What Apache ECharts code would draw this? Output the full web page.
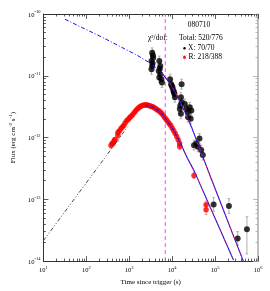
<!DOCTYPE html>
<html><head><meta charset="utf-8">
<script src="https://cdn.jsdelivr.net/npm/echarts@6/dist/echarts.min.js"></script>
<style>html,body{margin:0;padding:0;background:#fff}#c{width:270px;height:291px}</style>
</head><body><div id="c"></div>
<script>
// ---- axis ticks ----
const xTickValues = [1e1, 1e2, 1e3, 1e4, 1e5, 1e6];
const yTickValues = [1e-14, 1e-13, 1e-12, 1e-11, 1e-10];
const xMinorTicks = [];
for (let d = 1; d <= 5; d++) for (let k = 2; k <= 9; k++) xMinorTicks.push(k * Math.pow(10, d));
const yMinorTicks = [];
for (let d = -14; d <= -11; d++) for (let k = 2; k <= 9; k++) yMinorTicks.push(k * Math.pow(10, d));

// ---- X-ray data (black) ----
const xrtTime = [3420,3610,3300,3420,3300,3500,3550,
  5020,5300,4860,5300,5020,5590,5790,5150,
  8950,9440,10200,10700,11300,11600,16600,9800,11000,
  16000,16600,15100,16000,19700,21500,23500,25600,28000,23500,27000,15500,
  32300,36500,39800,43300,47400,51800,
  92500,210000,336000,552000];
const xrtFlux = [2.35e-11,1.95e-11,1.73e-11,1.44e-11,1.27e-11,1.60e-11,2.15e-11,
  1.73e-11,1.44e-11,1.19e-11,1.06e-11,9.36e-12,8.8e-12,7.78e-12,1.30e-11,
  8.8e-12,7.31e-12,6.47e-12,5.71e-12,5.06e-12,4.48e-12,7.31e-12,6.9e-12,5.4e-12,
  4.48e-12,3.73e-12,2.91e-12,2.42e-12,3.5e-12,2.91e-12,2.58e-12,3.1e-12,2.74e-12,2.14e-12,2.01e-12,3.3e-12,
  7.53e-13,8.02e-13,7.1e-13,9.64e-13,6.27e-13,5.21e-13,
  8.26e-14,7.78e-14,2.33e-14,3.29e-14];
const xrtErrLoDex = [0.08,0.08,0.08,0.08,0.08,0.08,0.08,
  0.08,0.08,0.08,0.08,0.08,0.08,0.08,0.08,
  0.08,0.08,0.08,0.08,0.08,0.08,0.08,0.08,0.08,
  0.08,0.08,0.08,0.08,0.08,0.08,0.08,0.08,0.08,0.08,0.08,0.08,
  0.08,0.08,0.08,0.08,0.08,0.08,
  0.11,0.12,0.11,0.40];
const xrtErrHiDex = [0.08,0.08,0.08,0.08,0.08,0.08,0.08,
  0.08,0.08,0.08,0.08,0.08,0.08,0.08,0.08,
  0.08,0.08,0.08,0.08,0.08,0.08,0.08,0.08,0.08,
  0.08,0.08,0.08,0.08,0.08,0.08,0.08,0.08,0.08,0.08,0.08,0.08,
  0.08,0.08,0.08,0.08,0.08,0.08,
  0.11,0.12,0.11,0.20];

// ---- optical R data (red) ----
const optTime = [376,400,418,440,464,543,543,590,637,690,745,800,873,950,1021,1100,1196,1300,1400,1520,1640,1780,1920,2080,2249,2430,2632,2850,3083,3330,3608,3900,4226,4570,4945,5350,5794,6260,6776,7330,7943,8590,9290,10050,10890,11780,12740,13800,14920,15000,32300,61700,61700];
const optFlux = [7.45e-13,8.0e-13,8.02e-13,8.8e-13,9.29e-13,1.08e-12,1.20e-12,1.28e-12,1.39e-12,1.48e-12,1.56e-12,1.72e-12,1.87e-12,1.98e-12,2.09e-12,2.22e-12,2.33e-12,2.52e-12,2.70e-12,2.86e-12,3.02e-12,3.14e-12,3.25e-12,3.33e-12,3.37e-12,3.38e-12,3.37e-12,3.30e-12,3.25e-12,3.19e-12,3.13e-12,3.02e-12,2.91e-12,2.80e-12,2.70e-12,2.56e-12,2.42e-12,2.25e-12,2.09e-12,1.94e-12,1.80e-12,1.67e-12,1.56e-12,1.42e-12,1.29e-12,1.16e-12,1.04e-12,9.2e-13,8.02e-13,7.18e-13,2.44e-13,8.17e-14,6.79e-14];
const optErrDex = [0.04,0.03,0.03,0.03,0.03,0.09,0.03,0.03,0.03,0.03,0.03,0.03,0.03,0.03,0.03,0.03,0.03,0.03,0.03,0.03,0.03,0.03,0.03,0.03,0.03,0.03,0.03,0.03,0.03,0.03,0.03,0.03,0.03,0.03,0.03,0.03,0.03,0.03,0.03,0.03,0.03,0.03,0.03,0.03,0.03,0.03,0.03,0.03,0.04,0.05,0.05,0.06,0.08];

// ---- model curves ----
const xrtModelEarlyTime = [31.8, 247, 1556, 3420, 5794];
const xrtModelEarlyFlux = [8.22e-11, 4.13e-11, 2.13e-11, 1.53e-11, 1.10e-11];
const xrtModelLateTime = [5794, 8810, 12740, 18400, 28000, 47400, 80200, 455000];
const xrtModelLateFlux = [1.10e-11, 7.59e-12, 4.88e-12, 2.91e-12, 1.50e-12, 5.75e-13, 2.21e-13, 1.0e-14];
const optRiseTime = [10, 543, 918];
const optRiseFlux = [2.14e-14, 9.06e-13, 1.50e-12];
const optDecayTime = [2024, 3083, 4226, 5794, 7943, 10890, 14920, 22700, 32800, 268500];
const optDecayFlux = [3.31e-12, 3.25e-12, 2.91e-12, 2.42e-12, 1.80e-12, 1.29e-12, 8.63e-13, 4.61e-13, 2.86e-13, 1.04e-14];
const breakTime = 6900;
const fluxRange = [1e-14, 1e-10];

const zip = (a, b) => a.map((v, i) => [v, b[i]]);
const FONT = 'Liberation Serif';

const errRender = (color) => function (params, api) {
  const x = api.value(0);
  const p1 = api.coord([x, api.value(2)]);
  const p2 = api.coord([x, api.value(3)]);
  const c = 1.3;
  const st = { stroke: color, lineWidth: 0.8 };
  return { type: 'group', children: [
    { type: 'line', shape: { x1: p1[0], y1: p1[1], x2: p2[0], y2: p2[1] }, style: st },
    { type: 'line', shape: { x1: p1[0]-c, y1: p1[1], x2: p1[0]+c, y2: p1[1] }, style: st },
    { type: 'line', shape: { x1: p2[0]-c, y1: p2[1], x2: p2[0]+c, y2: p2[1] }, style: st }
  ]};
};

const xrtErrData = xrtTime.map((t, i) => [t, xrtFlux[i], xrtFlux[i] / Math.pow(10, xrtErrLoDex[i]), xrtFlux[i] * Math.pow(10, xrtErrHiDex[i])]);
const optErrData = optTime.map((t, i) => [t, optFlux[i], optFlux[i] / Math.pow(10, optErrDex[i]), optFlux[i] * Math.pow(10, optErrDex[i])]);

const labRich = {
  b: { fontSize: 6.5, fontFamily: FONT, color: '#000', lineHeight: 9, verticalAlign: 'bottom' },
  s: { fontSize: 4.5, fontFamily: FONT, color: '#000', lineHeight: 5, verticalAlign: 'top' }
};
const powFmt = v => '{b|10}{s|' + Math.round(Math.log10(v)) + '}';

function xAx(pos, major, show) {
  return {
    type: 'log', logBase: 10, min: 10, max: 1e6, position: pos,
    axisLine: { show: show, onZero: false, lineStyle: { color: '#333', width: 1 } },
    axisTick: { show: true, inside: true, length: major ? 5 : 2.5, customValues: major ? xTickValues : xMinorTicks, lineStyle: { color: '#333', width: 0.8 } },
    axisLabel: (pos === 'bottom' && major) ? { show: true, customValues: xTickValues, formatter: powFmt, rich: labRich, margin: 4 } : { show: false },
    splitLine: { show: false },
    name: (pos === 'bottom' && major) ? 'Time since trigger (s)' : '',
    nameLocation: 'middle', nameGap: 12,
    nameTextStyle: { fontFamily: FONT, fontSize: 7, color: '#000' }
  };
}
function yAx(pos, major, show) {
  const col = pos === 'right' ? '#aaa' : '#333';
  return {
    type: 'log', logBase: 10, min: 1e-14, max: 1e-10, position: pos,
    axisLine: { show: show, onZero: false, lineStyle: { color: col, width: pos === 'right' ? 1.5 : 1 } },
    axisTick: { show: true, inside: true, length: major ? 5 : 2.5, customValues: major ? yTickValues : yMinorTicks, lineStyle: { color: col, width: 0.8 } },
    axisLabel: (pos === 'left' && major) ? { show: true, customValues: yTickValues, formatter: powFmt, rich: labRich, margin: 3 } : { show: false },
    splitLine: { show: false },
    name: (pos === 'left' && major) ? '{n|Flux (erg cm}{s|-2}{n| s}{s|-1}{n|)}' : '',
    nameLocation: 'middle', nameGap: 20, nameRotate: 90,
    nameTextStyle: { fontFamily: FONT, fontSize: 7, color: '#000', rich: {
      n: { fontFamily: FONT, fontSize: 7, color: '#000', lineHeight: 9, verticalAlign: 'bottom' },
      s: { fontFamily: FONT, fontSize: 5, color: '#000', lineHeight: 5, verticalAlign: 'top' } } }
  };
}

const chart = echarts.init(document.getElementById('c'), null, { renderer: 'canvas' });
chart.setOption({
  animation: false,
  backgroundColor: '#fff',
  grid: { left: 39, top: 14, right: 12, bottom: 27, containLabel: false },
  xAxis: [xAx('bottom', true, true), xAx('bottom', false, false), xAx('top', true, true), xAx('top', false, false)],
  yAxis: [yAx('left', true, true), yAx('left', false, false), yAx('right', true, true), yAx('right', false, false)],
  series: [
    { type: 'line', name: 'break', data: [[breakTime, fluxRange[0]], [breakTime, fluxRange[1]]], symbol: 'none', z: 1,
      itemStyle: { color: '#ff40ff' }, lineStyle: { color: '#ff40ff', width: 1, type: [4, 3] } },
    { type: 'custom', name: 'optErr', renderItem: errRender('#ff7070'), data: optErrData, z: 2, clip: true },
    { type: 'scatter', name: 'R', data: zip(optTime, optFlux), symbol: 'circle', symbolSize: 5.5, itemStyle: { color: '#ff0000' }, z: 3 },
    { type: 'custom', name: 'xrtErr', renderItem: errRender('#9a9a9a'), data: xrtErrData, z: 2, clip: true },
    { type: 'scatter', name: 'X', data: zip(xrtTime, xrtFlux), symbol: 'circle', symbolSize: 6, itemStyle: { color: '#000' }, z: 3 },
    { type: 'line', data: zip(xrtModelEarlyTime, xrtModelEarlyFlux), symbol: 'none', z: 5,
      lineStyle: { color: '#1010ff', width: 1, type: [4, 2, 1, 2] } },
    { type: 'line', data: zip(xrtModelLateTime, xrtModelLateFlux), symbol: 'none', z: 5, lineStyle: { color: '#1010ff', width: 1.1 } },
    { type: 'line', data: zip(xrtModelLateTime, xrtModelLateFlux), symbol: 'none', z: 6, lineStyle: { color: '#ff2020', width: 0.8, type: [3, 3] } },
    { type: 'line', data: zip(optRiseTime, optRiseFlux), symbol: 'none', z: 5, lineStyle: { color: '#333', width: 0.9, type: [4, 2, 1, 2, 1, 2] } },
    { type: 'line', data: zip(optDecayTime, optDecayFlux), symbol: 'none', z: 5, lineStyle: { color: '#1010ff', width: 1.1 } },
    { type: 'line', data: zip(optDecayTime, optDecayFlux), symbol: 'none', z: 6, lineStyle: { color: '#ff2020', width: 0.8, type: [3, 3] } }
  ],
  graphic: [
    { type: 'text', x: 199, y: 25, style: { text: '080710', font: '7.5px "Liberation Serif"', fill: '#000', textAlign: 'center', textVerticalAlign: 'middle' } },
    { type: 'text', x: 148, y: 38, style: { text: 'χ²/dof:', font: '7.5px "Liberation Serif"', fill: '#000', textAlign: 'left', textVerticalAlign: 'middle' } },
    { type: 'text', x: 179, y: 38, style: { text: 'Total: 520/776', font: '7.5px "Liberation Serif"', fill: '#000', textAlign: 'left', textVerticalAlign: 'middle' } },
    { type: 'circle', shape: { cx: 184.5, cy: 48.3, r: 1.2 }, style: { fill: '#000' } },
    { type: 'text', x: 188, y: 48.3, style: { text: 'X: 70/70', font: '7.5px "Liberation Serif"', fill: '#000', textAlign: 'left', textVerticalAlign: 'middle' } },
    { type: 'group', x: 184.5, y: 57.3, children: [
      { type: 'line', shape: { x1: -2, y1: -2, x2: 2, y2: 2 }, style: { stroke: '#ff8080', lineWidth: 0.8 } },
      { type: 'line', shape: { x1: -2, y1: 2, x2: 2, y2: -2 }, style: { stroke: '#ff8080', lineWidth: 0.8 } },
      { type: 'line', shape: { x1: 0, y1: -2.3, x2: 0, y2: 2.3 }, style: { stroke: '#ff8080', lineWidth: 0.8 } },
      { type: 'circle', shape: { cx: 0, cy: 0, r: 1.3 }, style: { fill: '#ff0000' } }
    ] },
    { type: 'text', x: 188.5, y: 57.3, style: { text: 'R: 218/388', font: '7.5px "Liberation Serif"', fill: '#000', textAlign: 'left', textVerticalAlign: 'middle' } }
  ]
});
</script>
</body></html>
